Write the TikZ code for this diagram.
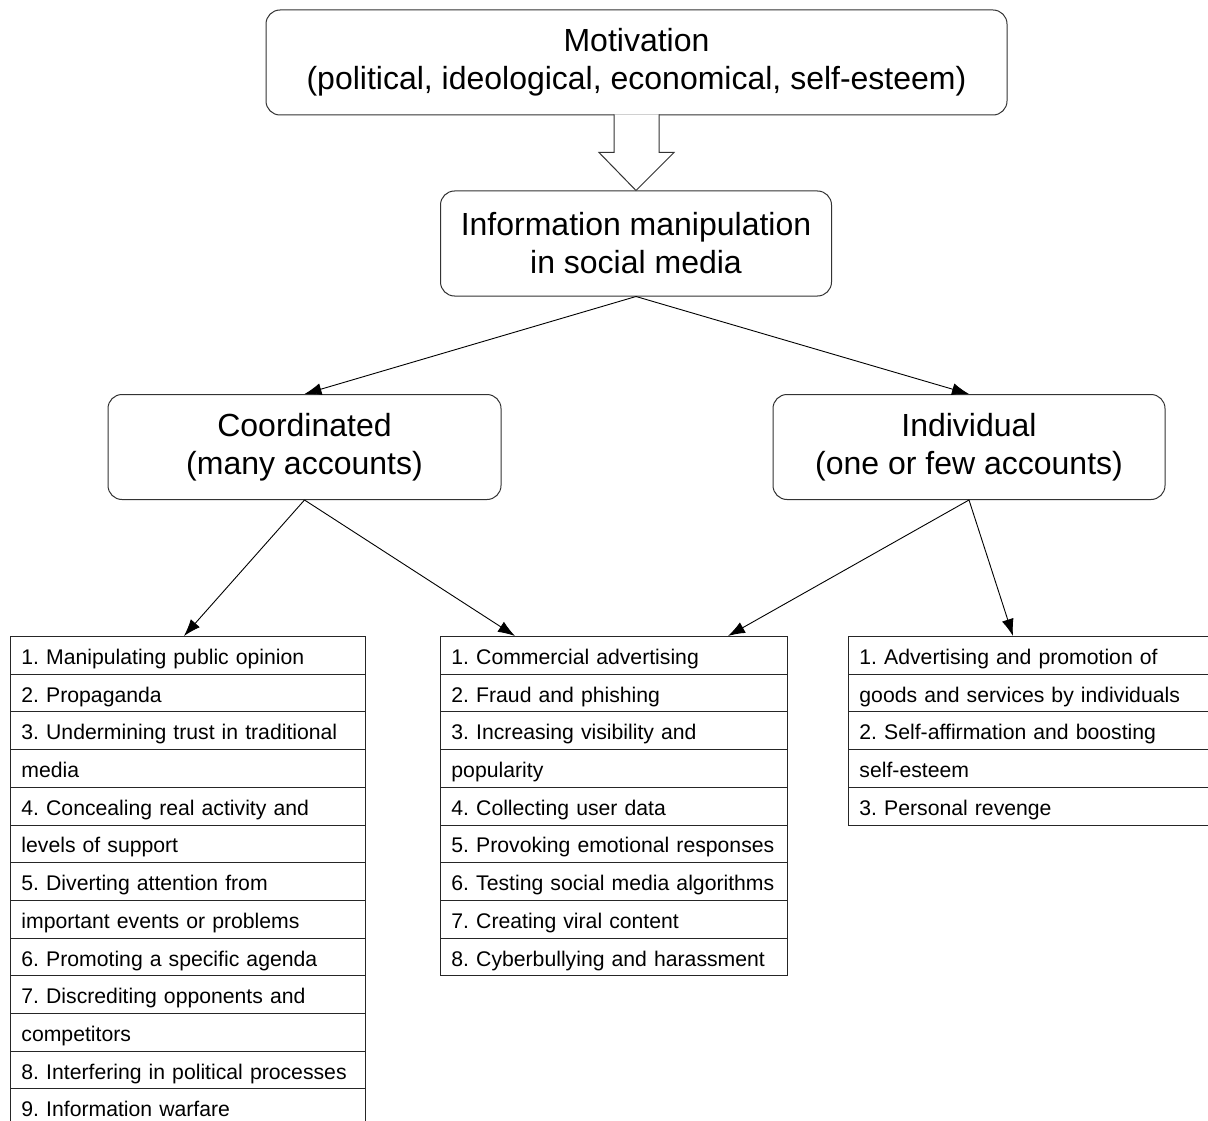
\documentclass[tikz,border=0pt]{standalone}
\usepackage{fontspec}
\setmainfont{Liberation Sans}
\usetikzlibrary{arrows.meta,calc}
\frenchspacing
\begin{document}
\begin{tikzpicture}[x=1pt,y=-1pt,
  bigbox/.style={draw=black!80, line width=1pt, rounded corners=14pt, fill=white,
    minimum height=105pt, align=center, inner sep=0pt,
    font=\fontsize{32}{38}\selectfont},
  row/.style={draw=black!85, line width=0.9pt, rectangle, anchor=north west,
    minimum height=37.7pt, inner xsep=11pt, inner ysep=0pt, align=left,
    text height=28pt, text depth=9.7pt,
    font=\fontsize{21.2}{25}\selectfont},
  conn/.style={draw=black, line width=0.9pt, -{Latex[length=17pt,width=12pt]}},
  hollow/.style={draw=black!80, line width=1pt, fill=white}]
\useasboundingbox (0,0) rectangle (1208,1121);
\fill[white] (0,0) rectangle (1208,1121);

% main boxes
\node[bigbox, minimum width=741pt] (top) at (636.5,62.5)
  {Motivation\\(political, ideological, economical, self-esteem)};
\node[bigbox, minimum width=391pt] (info) at (636,243.5)
  {Information manipulation\\in social media};
\node[bigbox, minimum width=393pt] (coord) at (304.5,447)
  {Coordinated\\(many accounts)};
\node[bigbox, minimum width=392pt] (indiv) at (969,447)
  {Individual\\(one or few accounts)};

% hollow arrow
\filldraw[hollow] ($(info.north)+(-22,-76)$) -- ($(info.north)+(-22,-38)$)
  -- ($(info.north)+(-37,-38)$) -- (info.north) -- ($(info.north)+(38,-38)$)
  -- ($(info.north)+(23,-38)$) -- ($(info.north)+(23,-76)$);

% left list
\foreach \t [count=\i] in {{1. Manipulating public opinion},{2. Propaganda},
  {3. Undermining trust in traditional},{media},{4. Concealing real activity and},
  {levels of support},{5. Diverting attention from},{important events or problems},
  {6. Promoting a specific agenda},{7. Discrediting opponents and},{competitors},
  {8. Interfering in political processes},{9. Information warfare}}
  \node[row, text width=333pt] (L\i) at (10,{636+(\i-1)*37.7}) {\mbox{\t}};

% middle list
\foreach \t [count=\i] in {{1. Commercial advertising},{2. Fraud and phishing},
  {3. Increasing visibility and},{popularity},{4. Collecting user data},
  {5. Provoking emotional responses},{6. Testing social media algorithms},
  {7. Creating viral content},{8. Cyberbullying and harassment}}
  \node[row, text width=325pt] (M\i) at (440,{636+(\i-1)*37.7}) {\mbox{\t}};

% right list
\foreach \t [count=\i] in {{1. Advertising and promotion of},
  {goods and services by individuals},{2. Self-affirmation and boosting},
  {self-esteem},{3. Personal revenge}}
  \node[row, text width=358pt] (R\i) at (848,{636+(\i-1)*37.7}) {\mbox{\t}};

% arrow targets
\coordinate (m1) at ($(M1.north west)+(75,0)$);
\coordinate (m2) at ($(M1.north west)+(288,0)$);
\coordinate (r1) at ($(R1.north west)+(165,0)$);
\coordinate (l1) at ($(L1.north west)+(174,0)$);

% connectors
\draw[conn] (info.south) -- (coord.north);
\draw[conn] (info.south) -- (indiv.north);
\draw[conn] (coord.south) -- (l1);
\draw[conn] (coord.south) -- (m1);
\draw[conn] (indiv.south) -- (m2);
\draw[conn] (indiv.south) -- (r1);
\end{tikzpicture}
\end{document}
